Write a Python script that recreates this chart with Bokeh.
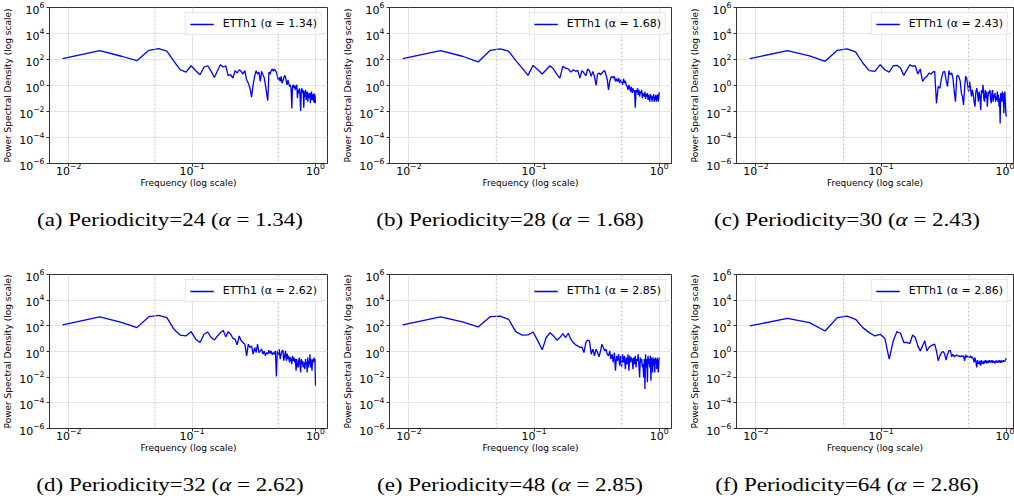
import numpy as np
from bokeh.plotting import figure
from bokeh.models import (FixedTicker, LogTickFormatter, Span, Legend, LegendItem,
                          Div, Range1d)
from bokeh.layouts import column, row
from bokeh.embed import file_html
from bokeh.resources import INLINE

# ---------------- data ----------------
N_BINS = 112
freq = [k / N_BINS for k in range(1, N_BINS + 1)]

letters = ["a", "b", "c", "d", "e", "f"]
periodicity = [24, 28, 30, 32, 48, 64]
alpha = [1.34, 1.68, 2.43, 2.62, 2.85, 2.86]

# log10 of the power spectral density, one value per frequency bin
psd_a_log = [2.07, 2.69, 2.25, 1.91, 2.71, 2.84, 2.64, 1.86, 1.21, 1.03,
             1.52, 1.14, 0.83, 1.42, 1.52, 1.09, 0.62, 1.14, 1.60, 1.42,
             1.52, 0.75, 0.83, 0.57, 1.14, 0.96, 1.21, 1.09, 0.88, 1.14,
             0.44, 0.18, -0.21, -0.90, 0.05, 0.70, 1.14, 0.88, 1.03, 0.31,
             1.09, 0.83, 0.62, 0.05, -0.59, -1.16, 1.03, 0.88, 1.14, 1.27,
             1.09, 1.27, 1.14, 1.03, 0.70, 0.44, 0.62, 0.31, 0.70, 0.18,
             0.36, 0.57, 0.78, 0.62, 0.31, 0.05, 0.44, 0.18, -0.08, 0.05,
             -0.21, -1.76, -0.08, 0.05, -0.21, 0.00, -0.34, -0.08, 0.05, -0.98,
             -0.34, -0.59, -0.21, -0.85, -1.96, -0.34, -0.21, -0.59, -0.34, -1.71,
             -0.47, -0.85, -0.34, -1.11, -0.59, -0.47, -1.24, -0.72, -0.59, -0.98,
             -0.59, -1.37, -0.72, -0.47, -1.11, -0.67, -0.85, -1.24, -0.59, -1.37,
             -0.72, -1.37]

psd_b_log = [2.07, 2.69, 2.25, 1.81, 2.71, 2.82, 2.64, 1.91, 1.34, 0.78,
             1.55, 1.21, 0.88, 1.21, 1.52, 1.27, 0.88, 0.57, 1.47, 1.34,
             1.27, 1.03, 1.21, 1.09, 1.16, 0.57, 1.14, 0.96, 0.75, 1.27,
             1.14, 0.70, 1.09, 0.70, 0.00, 0.88, 0.96, 0.83, 0.96, 1.09,
             1.14, 0.83, 0.44, -0.34, 0.31, 0.62, 0.70, 0.57, 0.70, 0.31,
             0.52, 0.31, 0.57, 0.18, 0.44, 0.26, 0.05, 0.52, 0.18, 0.36,
             0.05, -0.08, -0.34, 0.05, -0.21, -0.47, -0.08, -0.59, -0.21, -0.47,
             -0.34, -1.71, -0.34, -0.52, -0.21, -0.72, -0.34, -0.85, -0.47, -0.59,
             -0.34, -0.98, -0.59, -0.72, -0.85, -0.47, -1.03, -0.67, -0.85, -0.59,
             -1.11, -0.72, -0.93, -1.24, -0.67, -0.98, -0.78, -1.24, -0.85, -0.98,
             -0.67, -1.24, -0.85, -1.11, -0.72, -1.24, -0.78, -1.11, -0.67, -1.24,
             -0.85, -0.52]

psd_c_log = [2.07, 2.69, 2.27, 1.86, 2.71, 2.82, 2.58, 1.73, 1.14, 1.09,
             1.60, 1.21, 1.03, 1.52, 1.55, 1.34, 0.78, 1.21, 1.60, 1.47,
             1.52, 0.88, 1.27, 0.31, 0.57, 0.70, 0.96, 0.88, 1.03, 1.09,
             -1.37, -0.08, -0.21, 0.57, 1.03, 1.09, 0.44, -0.08, 1.14, 0.83,
             0.96, 0.57, -0.47, -1.24, 0.70, 0.78, 0.62, 0.31, -0.59, -0.85,
             -1.50, -0.21, 0.70, 0.57, 0.05, -0.47, 0.31, -0.21, -0.85, -0.34,
             -0.72, -1.24, -1.63, -0.47, -0.21, -0.59, -1.24, -0.47, -0.85, -1.89,
             -0.34, -0.59, 0.05, -0.98, -1.24, -0.34, -0.98, -0.47, -1.63, -0.85,
             -0.47, -0.59, -0.34, -1.11, -1.37, -0.59, -0.34, -1.24, -0.72, -0.98,
             -0.59, -1.24, -0.85, -1.11, -0.47, -1.24, -0.72, -1.63, -0.98, -2.92,
             -0.59, -1.24, -0.85, -0.47, -1.24, -0.59, -2.14, -0.72, -0.47, -1.24,
             -2.14, -2.40]

psd_d_log = [2.07, 2.69, 2.27, 1.86, 2.71, 2.82, 2.64, 1.73, 1.27, 1.21,
             1.55, 0.96, 0.70, 1.34, 1.52, 1.09, 0.90, 1.21, 1.47, 1.65,
             1.14, 1.55, 1.34, 1.03, 0.96, 0.52, 1.21, 0.83, 0.70, 0.57,
             -0.34, 0.57, 0.31, 0.44, -0.21, 0.31, -0.08, 0.57, -0.08, 0.05,
             0.18, -0.21, 0.05, -0.34, -0.08, -0.21, 0.10, -0.16, 0.05, -0.26,
             -0.08, -0.21, 0.05, -1.94, 0.05, -0.34, 0.18, -0.59, -0.21, 0.05,
             0.10, -0.72, -0.34, 0.05, -0.72, -0.16, -0.59, -0.34, -0.85, -0.47,
             -0.59, -0.98, -0.34, -0.72, -0.47, -0.85, -0.59, -1.50, -0.59, -1.11,
             -1.24, -0.72, -0.47, -1.11, -1.63, -0.59, -0.98, -0.72, -1.24, -0.85,
             -1.11, -1.37, -0.59, -0.98, -0.85, -1.63, -0.47, -1.24, -0.72, -0.98,
             -0.21, -1.24, -0.59, -0.85, -1.50, -0.72, -0.59, -0.85, -0.47, -0.72,
             -0.59, -2.66]

psd_e_log = [2.07, 2.69, 2.30, 1.91, 2.71, 2.76, 2.51, 1.55, 1.27, 1.29,
             1.52, 0.83, 0.13, 1.09, 1.47, 1.21, 0.88, 1.09, 1.40, 1.09,
             1.42, 0.96, 0.70, 0.52, 0.44, 0.31, 0.36, -0.08, 0.70, 0.88,
             0.83, -0.21, 0.18, -0.34, 0.18, -0.08, -0.41, 0.05, 0.57, 0.31,
             0.05, 0.18, -0.21, -0.34, 0.05, -0.59, -0.21, -0.85, -0.08, -1.50,
             -0.34, -0.72, -0.21, -1.11, -0.34, -1.24, -0.21, -0.85, -0.34, -1.37,
             -0.47, -0.98, -0.21, -1.50, -0.34, -0.85, -0.47, -0.59, -1.37, -0.47,
             -0.98, -0.34, -1.24, -0.59, -0.72, -0.21, -1.11, -2.02, -0.47, -0.85,
             -0.59, -1.24, -0.98, -2.02, -0.59, -2.92, -0.21, -1.24, -0.59, -2.40,
             -0.34, -0.98, -0.59, -1.24, -0.34, -2.27, -0.47, -0.85, -1.63, -0.47,
             -1.11, -0.59, -1.63, -0.47, -0.98, -0.59, -1.37, -0.47, -1.11, -1.63,
             -0.72, -0.47]

psd_f_log = [1.99, 2.58, 2.25, 1.60, 2.64, 2.76, 2.51, 1.86, 1.47, 1.21,
             1.34, 1.03, -0.59, 0.83, 1.55, 1.42, 0.70, 0.70, 0.62, 1.29,
             1.09, 0.44, 0.05, 0.44, 0.83, 0.05, 0.31, 0.44, 0.52, 0.57,
             0.05, -0.72, -0.34, -0.08, 0.00, -0.16, -0.67, -0.21, 0.05, 0.10,
             -0.41, -0.21, -0.41, -0.34, -0.28, -0.36, -0.34, -0.41, -0.34, -0.39,
             -0.34, -0.72, -0.26, -0.47, -0.34, -0.41, -0.47, -0.34, -0.52, -0.41,
             -0.59, -0.85, -0.47, -0.78, -1.24, -0.67, -0.93, -0.98, -0.72, -1.11,
             -0.67, -0.93, -0.78, -0.98, -0.72, -0.85, -0.67, -0.93, -0.80, -0.72,
             -0.88, -0.67, -0.85, -0.72, -0.83, -0.67, -0.88, -0.72, -0.85, -0.78,
             -0.93, -0.72, -0.83, -0.70, -0.88, -0.75, -0.85, -0.67, -0.83, -0.72,
             -0.88, -0.70, -0.85, -0.72, -0.83, -0.67, -0.80, -0.72, -0.78, -0.67,
             -0.62, -0.52]

psd_logs = [psd_a_log, psd_b_log, psd_c_log, psd_d_log, psd_e_log, psd_f_log]

y_ticks = [1e-6, 1e-4, 1e-2, 1e0, 1e2, 1e4, 1e6]
x_ticks = [1e-2, 1e-1, 1e0]
marker_freqs = [0.05, 0.5]

# ---------------- styling helpers ----------------
X_START = -2.155
PX_PER_DEC = 125.2
FONT = "DejaVu Sans"


def make_panel(i, width, height, left, right, top, bottom):
    fw = width - left - right
    x_end = X_START + fw / PX_PER_DEC
    p = figure(width=width, height=height,
               x_axis_type="log", y_axis_type="log",
               x_range=Range1d(10 ** X_START, 10 ** x_end),
               y_range=Range1d(1e-6, 1e6),
               min_border_left=left, min_border_right=right,
               min_border_top=top, min_border_bottom=bottom,
               output_backend="svg", toolbar_location=None)
    p.outline_line_color = "#333333"
    p.outline_line_width = 1
    p.border_fill_color = "white"

    for ax in (p.xaxis[0], p.yaxis[0]):
        ax.formatter = LogTickFormatter()
        ax.axis_line_color = "#333333"
        ax.major_tick_line_color = "#333333"
        ax.major_tick_in = 0
        ax.major_tick_out = 3
        ax.minor_tick_in = 0
        ax.minor_tick_out = 0
        ax.major_label_text_font = FONT
        ax.major_label_text_font_size = "11px"
        ax.major_label_text_color = "black"
        ax.axis_label_text_font = FONT
        ax.axis_label_text_font_size = "9px"
        ax.axis_label_text_font_style = "normal"
        ax.axis_label_text_color = "black"
    p.xaxis.major_label_standoff = -4
    p.xaxis.axis_label_standoff = 0
    p.yaxis.major_label_standoff = 2
    p.yaxis.axis_label_standoff = 3
    p.xaxis.ticker = FixedTicker(ticks=x_ticks, minor_ticks=[])
    p.yaxis.ticker = FixedTicker(ticks=y_ticks, minor_ticks=[])
    p.xaxis.axis_label = "Frequency (log scale)"
    p.yaxis.axis_label = "Power Spectral Density (log scale)"

    p.grid.grid_line_color = "#e4e4e4"
    p.grid.grid_line_width = 1

    for f0 in marker_freqs:
        p.add_layout(Span(location=f0, dimension="height", line_color="#c8c8c8",
                          line_width=1.2, line_dash="2 2"))

    psd = [10 ** v for v in psd_logs[i]]
    r = p.line(freq, psd, line_color="#0000ff", line_width=1.3)

    leg = Legend(items=[LegendItem(label=f"ETTh1 (\u03b1 = {alpha[i]:.2f})", renderers=[r])],
                 location="top_right")
    leg.margin = 5
    leg.padding = 4
    leg.spacing = 0
    leg.glyph_width = 24
    leg.glyph_height = 12
    leg.label_height = 12
    leg.label_standoff = 9
    leg.label_text_font = FONT
    leg.label_text_font_size = "11px"
    leg.label_text_color = "black"
    leg.border_line_color = "#d0d0d0"
    leg.border_line_width = 1
    leg.background_fill_alpha = 0.85
    p.add_layout(leg)
    return p


def make_caption(i, width, height, pad):
    html = (f'<div style="width:{width}px;padding-top:{pad}px;">'
            f'<div style="text-align:center;font-family:\'Liberation Serif\',serif;'
            f'font-size:23px;line-height:1;color:black;white-space:nowrap;'
            f'transform:scaleY(0.83);transform-origin:50% 0;">'
            f'({letters[i]}) Periodicity={periodicity[i]} (<i>\u03b1</i> = {alpha[i]:.2f})'
            f'</div></div>')
    return Div(text=html, width=width, height=height, margin=0)


# panel geometry per column: (figure width, left border, right border)
cols = [(340, 45, 13), (340, 49, 9), (334, 56, 1)]

row1 = row(*[make_panel(j, cols[j][0], 195, cols[j][1], cols[j][2], 7, 32)
             for j in range(3)])
cap1 = row(*[make_caption(j, cols[j][0], 69, 15) for j in range(3)])
row2 = row(*[make_panel(3 + j, cols[j][0], 196, cols[j][1], cols[j][2], 10, 32)
             for j in range(3)])
cap2 = row(*[make_caption(3 + j, cols[j][0], 39, 15) for j in range(3)])

layout = column(row1, cap1, row2, cap2)

open("out.html", "w").write(file_html(layout, INLINE))
